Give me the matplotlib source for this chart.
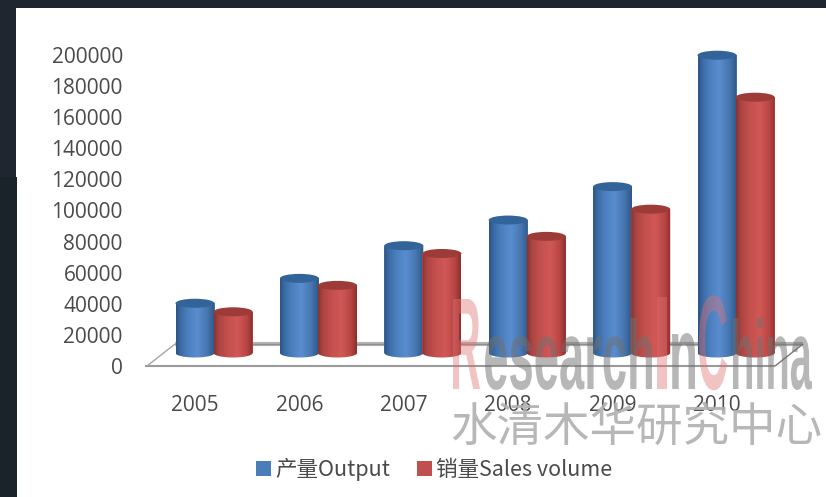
import numpy as np
import matplotlib
matplotlib.use("Agg")
import matplotlib.pyplot as plt
from matplotlib.patches import Rectangle, Polygon, Patch, Ellipse
from matplotlib.patheffects import AbstractPathEffect
from matplotlib.transforms import Affine2D
from matplotlib.textpath import TextPath
from matplotlib.font_manager import FontProperties
from matplotlib.colors import LinearSegmentedColormap

# ---- data ----
years = ["2005", "2006", "2007", "2008", "2009", "2010"]
output = [32000, 48000, 69000, 85500, 107000, 191500]
sales = [26500, 43500, 64000, 75000, 92500, 164500]
y_ticks = list(range(0, 200001, 20000))
series_names = ["产量Output", "销量Sales volume"]

W, H, DPI = 826, 497, 100
DARK = "#20262f"
CJK = ["Noto Sans CJK SC", "DejaVu Sans"]
TEXT = "#4a4a4a"

fig = plt.figure(figsize=(W / DPI, H / DPI), dpi=DPI, facecolor=DARK)


def fx(px):
    return px / W


def fy(py):
    return 1 - py / H


# white picture panel over a dark page
fig.patches.append(Rectangle((fx(16), 0), fx(W - 16), fy(8), transform=fig.transFigure,
                             facecolor="white", edgecolor="none", zorder=-2))
fig.patches.append(Rectangle((0, 0), fx(17), fy(177), transform=fig.transFigure,
                             facecolor="#1a222a", edgecolor="none", zorder=-1))

# axes: 0 sits at py=366, 200000 at py=55
L, R_, TOP, BOT = 145, 803, 55, 366
ax = fig.add_axes([fx(L), fy(BOT), fx(R_ - L), (BOT - TOP) / H])
ax.patch.set_visible(False)
CAT_STEP = 104.4
ax.set_xlim((L - 195) / CAT_STEP, (R_ - 195) / CAT_STEP)
ax.set_ylim(0, 200000)
for s in ax.spines.values():
    s.set_visible(False)
UNIT = 200000 / (BOT - TOP)  # value per pixel


def dx(px):
    return (px - 195) / CAT_STEP


def dy(py):
    return (BOT - py) * UNIT


# floor of the 3-D plot
floor_kw = dict(clip_on=False, solid_capstyle="butt", zorder=1)
ax.plot([dx(175), dx(803)], [dy(344), dy(344)], color="#b4b4b4", lw=3.0, **floor_kw)
ax.plot([dx(175), dx(803)], [dy(343.5), dy(343.5)], color="#8f8f8f", lw=0.9, **floor_kw)
ax.plot([dx(145), dx(775)], [dy(366), dy(366)], color="#9a9a9a", lw=1.5, **floor_kw)
ax.plot([dx(147), dx(175)], [dy(366), dy(344)], color="#a5a5a5", lw=1.0, **floor_kw)
ax.plot([dx(775), dx(803)], [dy(366), dy(344)], color="#777777", lw=1.0, **floor_kw)

# cylinders
BASE = dy(353)
ELL_H = 9 * UNIT
BAR_W = 39 / CAT_STEP
OFFSETS = [0.0, 0.365]
blue_cm = LinearSegmentedColormap.from_list(
    "b", [(0, "#2c5586"), (0.12, "#3d6ca6"), (0.3, "#4a7fbe"), (0.55, "#5a8dcf"),
          (0.8, "#4777b2"), (1, "#2f5886")])
red_cm = LinearSegmentedColormap.from_list(
    "r", [(0, "#8a3331"), (0.12, "#ab4543"), (0.35, "#c4504d"), (0.6, "#d05856"),
          (0.85, "#b84644"), (1, "#8c2f2d")])
grad = np.linspace(0, 1, 64).reshape(1, -1)
theta = np.linspace(np.pi, 2 * np.pi, 40)


def cylinders(values, offset, cmap, top_color, z):
    xs = np.arange(len(values)) + offset
    ax.bar(xs, values, width=BAR_W, bottom=BASE, color=cmap(0.5), linewidth=0, zorder=z)
    for x, v in zip(xs, values):
        top = BASE + v
        arc_x = x + BAR_W / 2 * np.cos(theta)
        arc_y = BASE + ELL_H / 2 * np.sin(theta)
        verts = np.column_stack([np.r_[arc_x, x + BAR_W / 2, x - BAR_W / 2],
                                 np.r_[arc_y, top, top]])
        clip = Polygon(verts, closed=True, transform=ax.transData, facecolor="none", edgecolor="none")
        ax.add_patch(clip)
        im = ax.imshow(grad, cmap=cmap, aspect="auto", zorder=z + 0.1, interpolation="bilinear",
                       extent=(x - BAR_W / 2, x + BAR_W / 2, BASE - ELL_H, top))
        im.set_clip_path(clip)
        ax.add_patch(Ellipse((x, top), BAR_W, ELL_H, facecolor=top_color, edgecolor="none",
                             zorder=z + 0.2, clip_on=False))


cylinders(output, OFFSETS[0], blue_cm, "#336499", 3)
cylinders(sales, OFFSETS[1], red_cm, "#9c3b38", 4)
ax.set_xlim((L - 195) / CAT_STEP, (R_ - 195) / CAT_STEP)
ax.set_ylim(0, 200000)

# ticks
ax.set_yticks(y_ticks)
ax.set_yticklabels([str(v) for v in y_ticks])
ax.set_xticks(range(len(years)))
ax.set_xticklabels(years)
ax.tick_params(axis="both", length=0, labelcolor=TEXT)
ax.tick_params(axis="y", pad=16)
ax.tick_params(axis="x", pad=21)
for lab in ax.get_xticklabels() + ax.get_yticklabels():
    lab.set_fontfamily("Open Sans")
    lab.set_fontsize(15)

# legend
handles = [Patch(facecolor="#4a7ebb", edgecolor="none"), Patch(facecolor="#c0504d", edgecolor="none")]
leg = fig.legend(handles, series_names, loc="center", bbox_to_anchor=(fx(434), fy(469)),
                 ncol=2, frameon=False, handlelength=0.7, handleheight=0.7, handletextpad=0.2,
                 columnspacing=1.25, prop=FontProperties(family=CJK, size=15.5), labelcolor=TEXT)


# watermark: real text, stretched to the tall condensed look of the original
class Stretch(AbstractPathEffect):
    def __init__(self, sx, sy, ox, oy):
        super().__init__()
        self.sx, self.sy, self.ox, self.oy = sx, sy, ox, oy

    def draw_path(self, renderer, gc, tpath, affine, rgbFace=None):
        t = affine + Affine2D().translate(-self.ox, -self.oy).scale(self.sx, self.sy).translate(self.ox, self.oy)
        renderer.draw_path(gc, tpath, t, rgbFace)


WM_FONT = FontProperties(family=["Liberation Sans Narrow", "Liberation Sans"], weight="bold", size=20)
PINK = ("#e07070", 0.42)
GREY = ("#707070", 0.5)
pieces = [
    ("R", 453, 480, 389, 90, PINK),
    ("esearch", 485, 652, 389, 72, GREY),
    ("I", 657, 667, 389, 92, PINK),
    ("n", 672, 695, 389, 56, GREY),
    ("C", 699, 727, 389, 95, PINK),
    ("hina", 733, 812, 389, 72, GREY),
]
scale_px = DPI / 72
for s, x0, x1, base, h, (col, al) in pieces:
    bb = TextPath((0, 0), s, size=20, prop=WM_FONT).get_extents()
    mw, mh = bb.width * scale_px, bb.height * scale_px
    sx, sy = (x1 - x0) / mw, h / mh
    ox, oy = x0, H - base
    fig.text(fx(x0 - bb.x0 * scale_px), fy(base), s, fontproperties=WM_FONT, color=col, alpha=al,
             ha="left", va="baseline", zorder=10, path_effects=[Stretch(sx, sy, ox, oy)])

fig.text(fx(636), fy(428), "水清木华研究中心", family=CJK, fontsize=33.5, color="#b0b0b0", alpha=0.9,
         ha="center", va="center", zorder=10)

fig.savefig("out.png", dpi=DPI, facecolor=DARK)
